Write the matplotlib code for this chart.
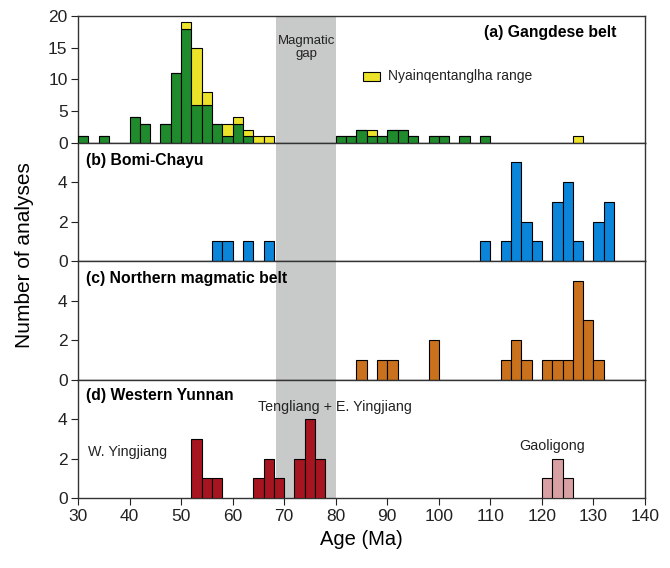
import numpy as np
import matplotlib
matplotlib.use("Agg")
import matplotlib.pyplot as plt
from matplotlib.patches import Rectangle

plt.rcParams['font.family'] = ['Liberation Sans', 'DejaVu Sans']

# bin left edges (Ma), 2 Ma bins
gangdese_bins = [30, 34, 40, 42, 46, 48, 50, 52, 54, 56, 58, 60, 62, 64, 66,
                 80, 82, 84, 86, 88, 90, 92, 94, 98, 100, 104, 108, 126]
gangdese_counts = [1, 1, 4, 3, 3, 11, 18, 6, 6, 3, 1, 3, 1, 0, 0,
                   1, 1, 2, 1, 1, 2, 2, 1, 1, 1, 1, 1, 0]
nyain_counts = [0, 0, 0, 0, 0, 0, 1, 9, 2, 0, 2, 1, 1, 1, 1,
                0, 0, 0, 1, 0, 0, 0, 0, 0, 0, 0, 0, 1]

bomi_bins = [56, 58, 62, 66, 108, 112, 114, 116, 118, 122, 124, 126, 130, 132]
bomi_counts = [1, 1, 1, 1, 1, 1, 5, 2, 1, 3, 4, 1, 2, 3]

north_bins = [84, 88, 90, 98, 112, 114, 116, 120, 122, 124, 126, 128, 130]
north_counts = [1, 1, 1, 2, 1, 2, 1, 1, 1, 1, 5, 3, 1]

yunnan_bins = [52, 54, 56, 64, 66, 68, 72, 74, 76]
yunnan_counts = [3, 1, 1, 1, 2, 1, 2, 4, 2]
gaoligong_bins = [120, 122, 124]
gaoligong_counts = [1, 2, 1]

gap = (68.5, 80)
bin_w = 2

fig = plt.figure(figsize=(6.7, 5.68), dpi=100)
gs = fig.add_gridspec(4, 1, height_ratios=[1.07, 1, 1, 1], hspace=0,
                      left=0.1164, right=0.9627, top=0.972, bottom=0.123)
axes = [fig.add_subplot(gs[i]) for i in range(4)]

edge = dict(edgecolor='black', linewidth=0.8, align='edge', width=bin_w, zorder=3)

for ax in axes:
    ax.axvspan(gap[0], gap[1], color='#c8c9c9', lw=0, zorder=1)
    ax.set_xlim(30, 140)
    for s in ax.spines.values():
        s.set_linewidth(1.0)
        s.set_color('#333333')
    ax.tick_params(axis='both', labelsize=12.5, direction='out', length=5,
                   colors='#222222', pad=2.5)

# (a)
ax = axes[0]
ax.bar(gangdese_bins, gangdese_counts, color='#1f8b2d', **edge)
ax.bar(gangdese_bins, nyain_counts, bottom=gangdese_counts, color='#ede22a', **edge)
ax.set_ylim(0, 20)
ax.set_yticks([0, 5, 10, 15, 20])
ax.text(0.95, 0.87, '(a) Gangdese belt', transform=ax.transAxes, ha='right', va='center',
        fontsize=11.3, fontweight='bold')
ax.text(74.25, 15.0, 'Magmatic\ngap', ha='center', va='center', fontsize=9.5,
        linespacing=1.1, color='#222222', zorder=4)
ax.add_patch(Rectangle((85.2, 9.7), 3.4, 1.5, facecolor='#ede22a', edgecolor='black',
                       linewidth=0.8, zorder=4))
ax.text(90.2, 10.45, 'Nyainqentanglha range', ha='left', va='center', fontsize=10,
        color='#222222')

# (b)
ax = axes[1]
ax.bar(bomi_bins, bomi_counts, color='#0b85d9', **edge)
ax.set_ylim(0, 6)
ax.set_yticks([0, 2, 4])
ax.text(0.014, 0.85, '(b) Bomi-Chayu', transform=ax.transAxes, ha='left', va='center',
        fontsize=11.3, fontweight='bold')

# (c)
ax = axes[2]
ax.bar(north_bins, north_counts, color='#c9711d', **edge)
ax.set_ylim(0, 6)
ax.set_yticks([0, 2, 4])
ax.text(0.014, 0.85, '(c) Northern magmatic belt', transform=ax.transAxes, ha='left',
        va='center', fontsize=11.3, fontweight='bold')

# (d)
ax = axes[3]
ax.bar(yunnan_bins, yunnan_counts, color='#a71620', **edge)
ax.bar(gaoligong_bins, gaoligong_counts, color='#d9a0a3', **edge)
ax.set_ylim(0, 6)
ax.set_yticks([0, 2, 4])
ax.text(0.014, 0.87, '(d) Western Yunnan', transform=ax.transAxes, ha='left',
        va='center', fontsize=11.3, fontweight='bold')
ax.text(32, 2.32, 'W. Yingjiang', ha='left', va='center', fontsize=10.3, color='#222222')
ax.text(79.8, 4.6, 'Tengliang + E. Yingjiang', ha='center', va='center', fontsize=10.3,
        color='#222222', zorder=4)
ax.text(122, 2.66, 'Gaoligong', ha='center', va='center', fontsize=10.3, color='#222222')
ax.set_xticks(np.arange(30, 141, 10))
ax.set_xlabel('Age (Ma)', fontsize=14.5, labelpad=5)

for ax in axes[:3]:
    ax.tick_params(axis='x', bottom=False, labelbottom=False)

fig.text(0.037, 1 - 255 / 568, 'Number of analyses', rotation=90, ha='center',
         va='center', fontsize=15)

fig.savefig('out.png', dpi=100)
